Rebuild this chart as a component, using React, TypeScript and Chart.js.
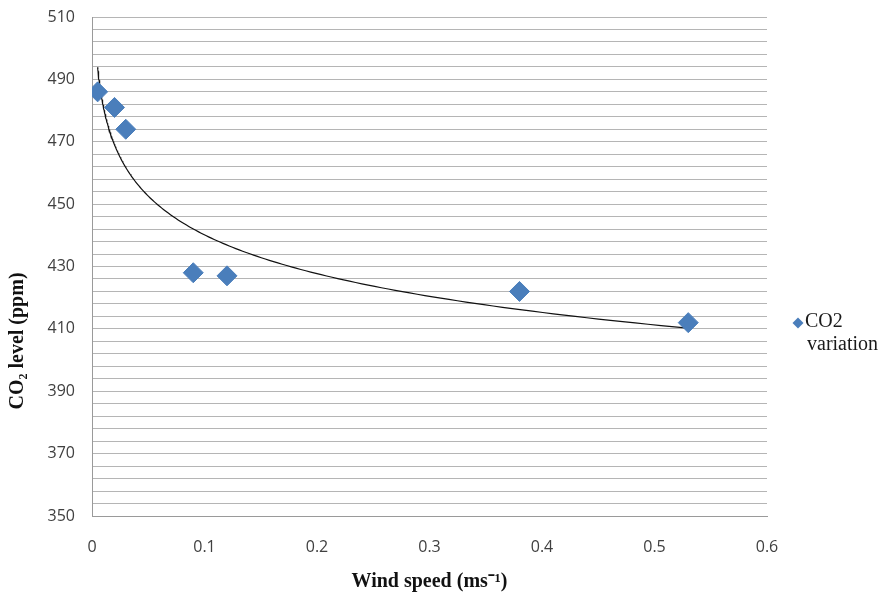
import React, { useEffect, useRef } from "react";
import { Chart, registerables } from "chart.js";

Chart.register(...registerables);

const windSpeed: number[] = [0.005, 0.02, 0.03, 0.09, 0.12, 0.38, 0.53];
const co2Level: number[] = [486, 481, 474, 428, 427, 422, 412];
const seriesLabel = ["CO2", "variation"];
const xTitle = "Wind speed (ms⁻¹)";
const yTitle = "CO₂ level (ppm)";
const yMin = 350;
const yMax = 510;
const yLabelStep = 20;
const yGridStep = 4;
const xMin = 0;
const xMax = 0.6;
const xStep = 0.1;

// Logarithmic trendline (least squares on ln(x)), as in the reference
function logFit(xs: number[], ys: number[]) {
  const lx = xs.map((v) => Math.log(v));
  const n = xs.length;
  const mx = lx.reduce((a, b) => a + b, 0) / n;
  const my = ys.reduce((a, b) => a + b, 0) / n;
  let sxy = 0, sxx = 0;
  for (let i = 0; i < n; i++) {
    sxy += (lx[i] - mx) * (ys[i] - my);
    sxx += (lx[i] - mx) * (lx[i] - mx);
  }
  const a = sxy / sxx;
  return { a, b: my - a * mx };
}

export default function App() {
  const ref = useRef<HTMLCanvasElement>(null);
  useEffect(() => {
    if (!ref.current) return;
    const { a, b } = logFit(windSpeed, co2Level);
    const x0 = Math.min(...windSpeed);
    const x1 = Math.max(...windSpeed);
    const trend: { x: number; y: number }[] = [];
    const steps = 200;
    for (let i = 0; i <= steps; i++) {
      const x = Math.exp(Math.log(x0) + ((Math.log(x1) - Math.log(x0)) * i) / steps);
      trend.push({ x, y: a * Math.log(x) + b });
    }
    const legendPlugin = {
      id: "customLegend",
      afterDraw(chart: any) {
        const ctx = chart.ctx;
        ctx.save();
        const cx = 798, cy = 323, r = 5.5;
        ctx.fillStyle = "#4A7EBB";
        ctx.beginPath();
        ctx.moveTo(cx, cy - r);
        ctx.lineTo(cx + r, cy);
        ctx.lineTo(cx, cy + r);
        ctx.lineTo(cx - r, cy);
        ctx.closePath();
        ctx.fill();
        ctx.fillStyle = "#1a1a1a";
        ctx.font = "20px 'Liberation Serif', serif";
        ctx.textBaseline = "middle";
        ctx.textAlign = "left";
        ctx.fillText(seriesLabel[0], 805, 322);
        ctx.fillText(seriesLabel[1], 807, 345);
        // y-axis title (placed lower than centre, as in the reference)
        ctx.translate(18, 341);
        ctx.rotate(-Math.PI / 2);
        ctx.textAlign = "center";
        ctx.fillStyle = "#111111";
        ctx.font = "bold 20px 'Liberation Serif', serif";
        ctx.fillText(yTitle, 0, 0);
        ctx.restore();
      },
    };
    const chart = new Chart(ref.current, {
      type: "scatter",
      data: {
        datasets: [
          {
            label: "CO2 variation",
            data: windSpeed.map((x, i) => ({ x, y: co2Level[i] })),
            pointStyle: "rectRot",
            pointRadius: 10,
            backgroundColor: "#4A7EBB",
            borderColor: "#4A7EBB",
            borderWidth: 1,
            order: 0,
          },
          {
            type: "line",
            label: "trend",
            data: trend,
            borderColor: "#111111",
            borderWidth: 1.2,
            pointRadius: 0,
            fill: false,
            tension: 0,
            order: 1,
          } as any,
        ],
      },
      options: {
        animation: false,
        responsive: false,
        maintainAspectRatio: false,
        layout: { padding: { left: 0, right: 112, top: 17, bottom: 0 } },
        plugins: { legend: { display: false }, tooltip: { enabled: false } },
        scales: {
          x: {
            type: "linear",
            min: xMin,
            max: xMax,
            afterFit: (s: any) => { s.height = 80; },
            ticks: {
              stepSize: xStep,
              padding: 22,
              color: "#404040",
              font: { family: "'Open Sans', sans-serif", size: 16 },
              callback: (v: any) => {
                const n = Math.round(Number(v) * 10) / 10;
                return String(n);
              },
            },
            grid: { display: false, drawTicks: false },
            border: { display: true, color: "#9a9a9a", width: 1 },
            title: {
              display: true,
              text: xTitle,
              color: "#111111",
              font: { family: "'Liberation Serif', serif", size: 20, weight: "bold" },
              padding: { top: 0, bottom: 2 },
            },
          },
          y: {
            type: "linear",
            min: yMin,
            max: yMax,
            afterFit: (s: any) => { s.width = 92; },
            ticks: {
              stepSize: yGridStep,
              autoSkip: false,
              maxTicksLimit: 100,
              padding: 0,
              color: "#404040",
              font: { family: "'Open Sans', sans-serif", size: 16 },
              callback: (v: any) => {
                const n = Math.round(Number(v));
                return (n - yMin) % yLabelStep === 0 ? String(n) : "";
              },
            },
            grid: { color: "#b5b5b5", lineWidth: 1, drawTicks: true, tickLength: 17, tickColor: "rgba(0,0,0,0)" },
            border: { display: true, color: "#9a9a9a", width: 1 },
            title: { display: false },
          },
        },
      },
      plugins: [legendPlugin],
    });
    return () => chart.destroy();
  }, []);
  return (
    <div style={{ position: "fixed", left: 0, top: 0, width: 879, height: 596, background: "#ffffff" }}>
      <canvas ref={ref} width={879} height={596} style={{ width: 879, height: 596, display: "block" }} />
    </div>
  );
}
